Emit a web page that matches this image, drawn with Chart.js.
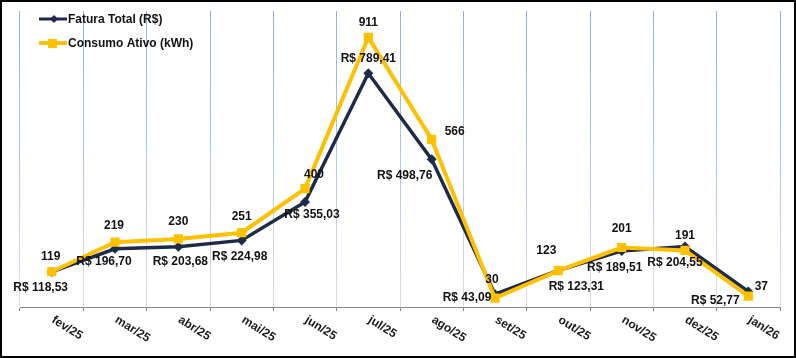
<!DOCTYPE html>
<html>
<head>
<meta charset="utf-8">
<script src="https://cdn.jsdelivr.net/npm/chart.js@4"></script>
<style>
html,body{margin:0;padding:0;background:#fff;}
#wrap{width:796px;height:358px;position:relative;}
</style>
</head>
<body>
<div id="wrap"><canvas id="c" width="796" height="358"></canvas></div>
<script>
// ---- data ----
const categories = ['fev/25','mar/25','abr/25','mai/25','jun/25','jul/25','ago/25','set/25','out/25','nov/25','dez/25','jan/26'];
const faturaTotal = [118.53,196.70,203.68,224.98,355.03,789.41,498.76,43.09,123.31,189.51,204.55,52.77];
const consumoAtivo = [119,219,230,251,400,911,566,30,123,201,191,37];
const seriesNames = ['Fatura Total (R$)','Consumo Ativo (kWh)'];

// ---- label placement (pixel offsets from each point) ----
const faturaLabelOffsets = [[-11,16],[-11,13],[2,15],[-2,16],[7,13],[0,-15],[-27,16],[-28,3],[18,16],[-7,17],[-10,16],[-33,9]];
const consumoLabelOffsets = [[-1,-15],[-1,-16],[0,-17],[0,-16],[9,-14],[0,-15],[23,-8],[-3,-18],[-12,-20],[0,-19],[0,-15],[13,-9]];

const NAVY = '#1D2B48';
const GOLD = '#FFC000';

function fmtBRL(v){ return 'R$ ' + v.toFixed(2).replace('.', ','); }

const decor = {
  id: 'decor',
  afterDraw(chart){
    const ctx = chart.ctx;
    const xs = chart.scales.x;
    ctx.save();
    // data labels
    ctx.font = 'bold 12px "Liberation Sans", Arial, sans-serif';
    ctx.fillStyle = '#111';
    ctx.textAlign = 'center';
    ctx.textBaseline = 'middle';
    const m0 = chart.getDatasetMeta(0), m1 = chart.getDatasetMeta(1);
    m0.data.forEach((p,i)=>{
      const o = faturaLabelOffsets[i];
      ctx.fillText(fmtBRL(faturaTotal[i]), p.x + o[0], p.y + o[1]);
    });
    m1.data.forEach((p,i)=>{
      const o = consumoLabelOffsets[i];
      ctx.fillText(String(consumoAtivo[i]), p.x + o[0], p.y + o[1]);
    });
    // x labels rotated clockwise
    ctx.font = 'bold 12px "Liberation Sans", Arial, sans-serif';
    ctx.fillStyle = '#1a1a1a';
    ctx.textAlign = 'left';
    categories.forEach((c,i)=>{
      const x = xs.getPixelForTick(i);
      ctx.save();
      ctx.translate(x + 1, 319);
      ctx.rotate(32*Math.PI/180);
      ctx.fillText(c, 0, 0);
      ctx.restore();
    });
    // legend
    const items = [{y:19,color:NAVY,w:3,shape:'diamond'},{y:43,color:GOLD,w:4,shape:'square'}];
    items.forEach((it,k)=>{
      ctx.strokeStyle = it.color; ctx.lineWidth = it.w; ctx.lineCap='butt';
      ctx.beginPath(); ctx.moveTo(39,it.y); ctx.lineTo(67,it.y); ctx.stroke();
      ctx.fillStyle = it.color;
      if(it.shape==='diamond'){
        ctx.beginPath(); ctx.moveTo(54,it.y-4); ctx.lineTo(58,it.y); ctx.lineTo(54,it.y+4); ctx.lineTo(50,it.y); ctx.closePath(); ctx.fill();
      } else {
        ctx.fillRect(48,it.y-4,9,9);
      }
      ctx.fillStyle = '#111';
      ctx.font = 'bold 12px "Liberation Sans", Arial, sans-serif';
      ctx.textAlign = 'left'; ctx.textBaseline = 'middle';
      ctx.fillText(seriesNames[k], 68, it.y+1);
    });
    // outer border
    ctx.strokeStyle = '#000'; ctx.lineWidth = 2;
    ctx.strokeRect(1,1,794,356);
    ctx.restore();
  }
};

new Chart(document.getElementById('c'), {
  type: 'line',
  data: {
    labels: categories,
    datasets: [
      {
        label: seriesNames[0], data: faturaTotal,
        borderColor: NAVY, backgroundColor: NAVY, borderWidth: 3.5,
        pointStyle: 'rectRot', pointRadius: 5, pointBorderWidth: 0,
        pointBackgroundColor: NAVY, tension: 0, order: 2
      },
      {
        label: seriesNames[1], data: consumoAtivo,
        borderColor: GOLD, backgroundColor: GOLD, borderWidth: 4,
        pointStyle: 'rect', pointRadius: 6.5, pointBorderWidth: 0,
        pointBackgroundColor: GOLD, tension: 0, order: 1
      }
    ]
  },
  options: {
    responsive: false,
    animation: false,
    events: [],
    layout: { padding: { left: 20, right: 16, top: 11, bottom: 0 } },
    plugins: { legend: { display: false }, tooltip: { enabled: false } },
    scales: {
      y: { display: false, min: 0, max: 1000 },
      x: {
        offset: true,
        grid: {
          offset: true, drawOnChartArea: true, drawTicks: true, tickLength: 4,
          tickColor: '#868686',
          color: (ctx) => {
            const ch = ctx.chart; const a = ch.chartArea;
            if (!a) return '#B8C9E8';
            const g = ch.ctx.createLinearGradient(0, a.top, 0, a.bottom);
            g.addColorStop(0, '#8DB0E6');
            g.addColorStop(1, '#D6DEEC');
            return g;
          },
          lineWidth: 1
        },
        border: { display: true, color: '#868686', width: 1 },
        ticks: { display: false },
        afterFit: (s) => { s.height = 51; }
      }
    }
  },
  plugins: [decor]
});
</script>
</body>
</html>
